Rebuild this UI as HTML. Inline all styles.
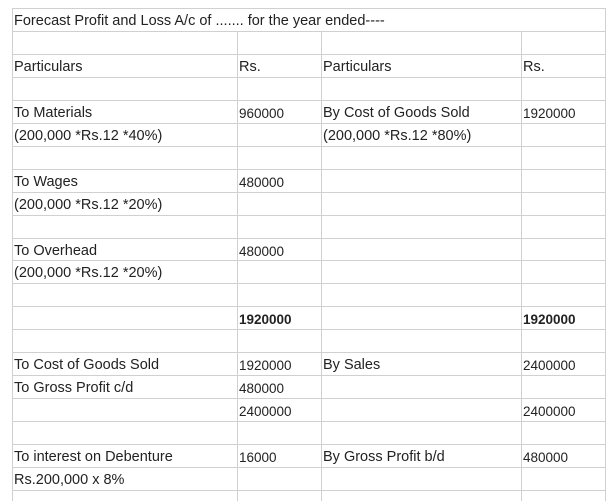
<!DOCTYPE html>
<html><head><meta charset="utf-8"><style>
body{margin:0;width:614px;height:501px;background:#fff;overflow:hidden;position:relative;font-family:"Liberation Sans",Arial,sans-serif;font-size:14.5px;color:#222}
.h{position:absolute;height:1px;background:#d0d0d0}
.v{position:absolute;width:1px;background:#d0d0d0}
.t{position:absolute;white-space:nowrap;line-height:16px}
</style></head><body>
<div id="g"></div>
<div id="c"></div>
<script>
const rowTop=8, pitch=22.95;
const colX=[12,237,321,521,605];
const rows=[
 ["Forecast Profit and Loss A/c of ....... for the year ended----","","","",0,true],
 ["","","","",0],
 ["Particulars","Rs.","Particulars","Rs.",0],
 ["","","","",0],
 ["To Materials","960000","By Cost of Goods Sold","1920000",0],
 ["(200,000 *Rs.12 *40%)","","(200,000 *Rs.12 *80%)","",0],
 ["","","","",0],
 ["To Wages","480000","","",0],
 ["(200,000 *Rs.12 *20%)","","","",0],
 ["","","","",0],
 ["To Overhead","480000","","",0],
 ["(200,000 *Rs.12 *20%)","","","",0],
 ["","","","",0],
 ["","1920000","","1920000",1],
 ["","","","",0],
 ["To Cost of Goods Sold","1920000","By Sales","2400000",0],
 ["To Gross Profit c/d","480000","","",0],
 ["","2400000","","2400000",0],
 ["","","","",0],
 ["To interest on Debenture","16000","By Gross Profit b/d","480000",0],
 ["Rs.200,000 x 8%","","","",0],
 ["","","","",0]
];
const g=document.getElementById('g'), c=document.getElementById('c');
for(let i=0;i<=rows.length;i++){
  const y=Math.round(rowTop+i*pitch);
  if(y>501)break;
  const d=document.createElement('div');d.className='h';
  
  
  d.style.left=colX[0]+'px';d.style.width=(colX[4]-colX[0]+1)+'px';d.style.top=y+'px';g.appendChild(d);
}
colX.forEach((x,k)=>{
  const d=document.createElement('div');d.className='v';
  
  
  const top=(k==0||k==4)?rowTop:Math.round(rowTop+pitch);
  d.style.left=x+'px';d.style.top=top+'px';d.style.height=(501-top)+'px';g.appendChild(d);
});
rows.forEach((r,i)=>{
  const y=Math.round(rowTop+i*pitch)+5;
  for(let k=0;k<4;k++){
    if(!r[k])continue;
    const d=document.createElement('div');d.className='t';
    
    
    d.textContent=r[k];
    d.style.left=(colX[k]+2)+'px';d.style.top=y+'px';
    if(/^\d+$/.test(r[k])){d.style.fontSize='13.5px';d.style.top=(y+1)+'px';}
    if(r[4])d.style.fontWeight='bold';
    c.appendChild(d);
  }
});
</script>
</body></html>
